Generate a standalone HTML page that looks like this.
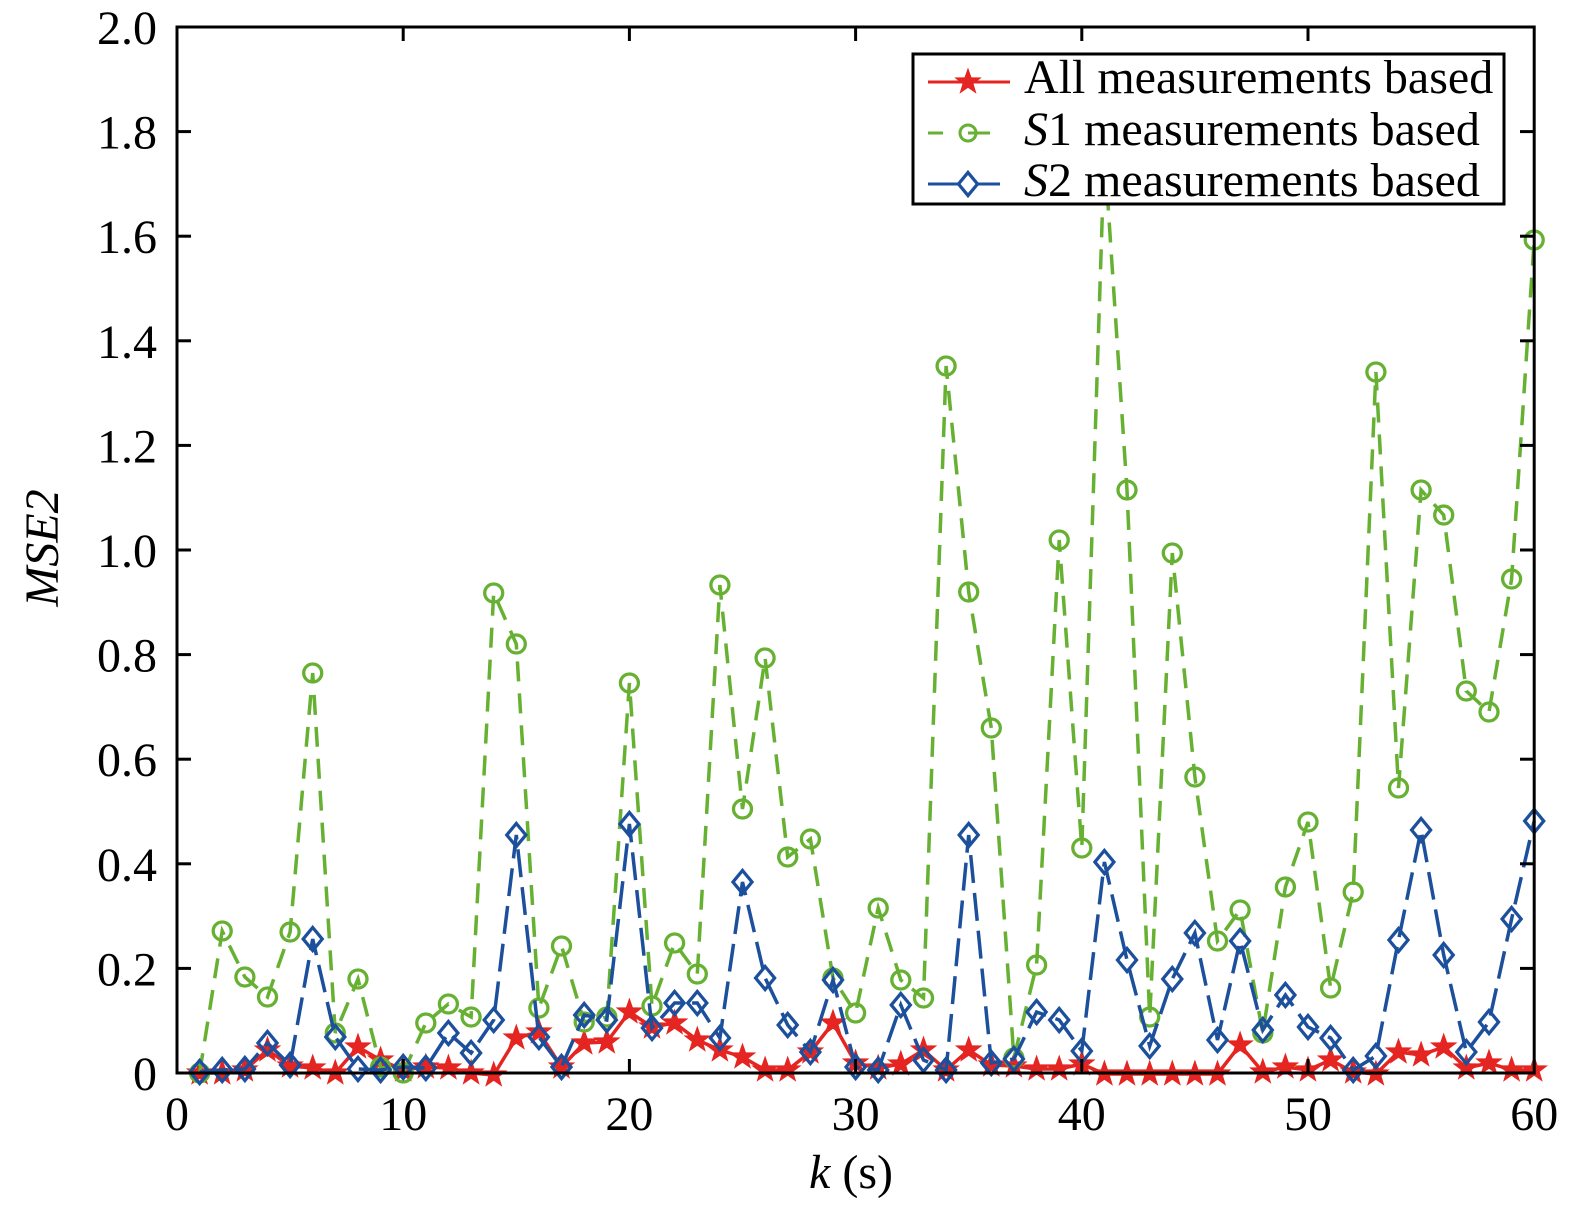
<!DOCTYPE html>
<html>
<head>
<meta charset="utf-8">
<style>
  html, body { margin:0; padding:0; background:#ffffff; }
  svg { display:block; }
  text { font-family: "Liberation Serif", "Times New Roman", serif; fill:#000; }
</style>
</head>
<body>
<svg width="1575" height="1212" viewBox="0 0 1575 1212" xmlns="http://www.w3.org/2000/svg">
  <defs>
    <path id="star" d="M0,-13 L3.06,-4.21 L12.36,-4.02 L4.95,1.61 L7.64,10.52 L0,5.2 L-7.64,10.52 L-4.95,1.61 L-12.36,-4.02 L-3.06,-4.21 Z" fill="#e52521" stroke="#e52521" stroke-width="1"/>
    <circle id="circ" cx="0" cy="0" r="9" fill="none" stroke="#66b032" stroke-width="3.3"/>
    <path id="diam" d="M0,-11.5 L9.5,0 L0,11.5 L-9.5,0 Z" fill="none" stroke="#1c4f9c" stroke-width="3.3" stroke-linejoin="miter"/>
  </defs>
  <rect width="1575" height="1212" fill="#fff"/>

  <!-- Red series (All) -->
  <polyline fill="none" stroke="#e52521" stroke-width="3.5" stroke-linejoin="round" points="199.6,1073 222.2,1073 244.9,1070 267.5,1050 290.1,1066 312.7,1068 335.3,1073 358.0,1047 380.6,1060 403.2,1070 425.8,1067 448.4,1068 471.1,1073 493.7,1075 516.3,1038 538.9,1032 561.5,1067 584.2,1043 606.8,1042 629.4,1012 652.0,1027 674.6,1023 697.3,1040 719.9,1050 742.5,1057 765.1,1070 787.7,1070 810.4,1052 833.0,1023 855.6,1063 878.2,1068 900.8,1064 923.5,1050 946.1,1070 968.7,1050 991.3,1065 1013.9,1066 1036.6,1069 1059.2,1069 1081.8,1064 1104.4,1074 1127.0,1074 1149.7,1074 1172.3,1074 1194.9,1074 1217.5,1074 1240.1,1045 1262.8,1072 1285.4,1067 1308.0,1070 1330.6,1060 1353.2,1072 1375.9,1074 1398.5,1052 1421.1,1055 1443.7,1047 1466.3,1068 1489.0,1063 1511.6,1070 1534.2,1070"/>
  <g>
    <use href="#star" x="199.6" y="1073"/><use href="#star" x="222.2" y="1073"/><use href="#star" x="244.9" y="1070"/><use href="#star" x="267.5" y="1050"/><use href="#star" x="290.1" y="1066"/><use href="#star" x="312.7" y="1068"/><use href="#star" x="335.3" y="1073"/><use href="#star" x="358.0" y="1047"/><use href="#star" x="380.6" y="1060"/><use href="#star" x="403.2" y="1070"/>
    <use href="#star" x="425.8" y="1067"/><use href="#star" x="448.4" y="1068"/><use href="#star" x="471.1" y="1073"/><use href="#star" x="493.7" y="1075"/><use href="#star" x="516.3" y="1038"/><use href="#star" x="538.9" y="1032"/><use href="#star" x="561.5" y="1067"/><use href="#star" x="584.2" y="1043"/><use href="#star" x="606.8" y="1042"/><use href="#star" x="629.4" y="1012"/>
    <use href="#star" x="652.0" y="1027"/><use href="#star" x="674.6" y="1023"/><use href="#star" x="697.3" y="1040"/><use href="#star" x="719.9" y="1050"/><use href="#star" x="742.5" y="1057"/><use href="#star" x="765.1" y="1070"/><use href="#star" x="787.7" y="1070"/><use href="#star" x="810.4" y="1052"/><use href="#star" x="833.0" y="1023"/><use href="#star" x="855.6" y="1063"/>
    <use href="#star" x="878.2" y="1068"/><use href="#star" x="900.8" y="1064"/><use href="#star" x="923.5" y="1050"/><use href="#star" x="946.1" y="1070"/><use href="#star" x="968.7" y="1050"/><use href="#star" x="991.3" y="1065"/><use href="#star" x="1013.9" y="1066"/><use href="#star" x="1036.6" y="1069"/><use href="#star" x="1059.2" y="1069"/><use href="#star" x="1081.8" y="1064"/>
    <use href="#star" x="1104.4" y="1074"/><use href="#star" x="1127.0" y="1074"/><use href="#star" x="1149.7" y="1074"/><use href="#star" x="1172.3" y="1074"/><use href="#star" x="1194.9" y="1074"/><use href="#star" x="1217.5" y="1074"/><use href="#star" x="1240.1" y="1045"/><use href="#star" x="1262.8" y="1072"/><use href="#star" x="1285.4" y="1067"/><use href="#star" x="1308.0" y="1070"/>
    <use href="#star" x="1330.6" y="1060"/><use href="#star" x="1353.2" y="1072"/><use href="#star" x="1375.9" y="1074"/><use href="#star" x="1398.5" y="1052"/><use href="#star" x="1421.1" y="1055"/><use href="#star" x="1443.7" y="1047"/><use href="#star" x="1466.3" y="1068"/><use href="#star" x="1489.0" y="1063"/><use href="#star" x="1511.6" y="1070"/><use href="#star" x="1534.2" y="1070"/>
  </g>

  <!-- Green series (S1) -->
  <polyline fill="none" stroke="#66b032" stroke-width="3.5" stroke-dasharray="20,12" points="199.6,1073 222.2,931 244.9,977 267.5,997 290.1,932 312.7,673 335.3,1033 358.0,979 380.6,1067 403.2,1073 425.8,1023 448.4,1004 471.1,1017 493.7,593 516.3,644 538.9,1008 561.5,946 584.2,1022 606.8,1017 629.4,683 652.0,1006 674.6,943 697.3,974 719.9,585 742.5,809 765.1,658 787.7,857 810.4,839 833.0,978 855.6,1013 878.2,908 900.8,980 923.5,998 946.1,366 968.7,592 991.3,728 1013.9,1058 1036.6,965 1059.2,540 1081.8,848 1104.4,150 1127.0,490 1149.7,1017 1172.3,553 1194.9,777 1217.5,941 1240.1,910 1262.8,1033 1285.4,887 1308.0,822 1330.6,988 1353.2,892 1375.9,372 1398.5,788 1421.1,490 1443.7,515 1466.3,691 1489.0,712 1511.6,579 1534.2,240"/>
  <g>
    <use href="#circ" x="199.6" y="1073"/><use href="#circ" x="222.2" y="931"/><use href="#circ" x="244.9" y="977"/><use href="#circ" x="267.5" y="997"/><use href="#circ" x="290.1" y="932"/><use href="#circ" x="312.7" y="673"/><use href="#circ" x="335.3" y="1033"/><use href="#circ" x="358.0" y="979"/><use href="#circ" x="380.6" y="1067"/><use href="#circ" x="403.2" y="1073"/>
    <use href="#circ" x="425.8" y="1023"/><use href="#circ" x="448.4" y="1004"/><use href="#circ" x="471.1" y="1017"/><use href="#circ" x="493.7" y="593"/><use href="#circ" x="516.3" y="644"/><use href="#circ" x="538.9" y="1008"/><use href="#circ" x="561.5" y="946"/><use href="#circ" x="584.2" y="1022"/><use href="#circ" x="606.8" y="1017"/><use href="#circ" x="629.4" y="683"/>
    <use href="#circ" x="652.0" y="1006"/><use href="#circ" x="674.6" y="943"/><use href="#circ" x="697.3" y="974"/><use href="#circ" x="719.9" y="585"/><use href="#circ" x="742.5" y="809"/><use href="#circ" x="765.1" y="658"/><use href="#circ" x="787.7" y="857"/><use href="#circ" x="810.4" y="839"/><use href="#circ" x="833.0" y="978"/><use href="#circ" x="855.6" y="1013"/>
    <use href="#circ" x="878.2" y="908"/><use href="#circ" x="900.8" y="980"/><use href="#circ" x="923.5" y="998"/><use href="#circ" x="946.1" y="366"/><use href="#circ" x="968.7" y="592"/><use href="#circ" x="991.3" y="728"/><use href="#circ" x="1013.9" y="1058"/><use href="#circ" x="1036.6" y="965"/><use href="#circ" x="1059.2" y="540"/><use href="#circ" x="1081.8" y="848"/>
    <use href="#circ" x="1104.4" y="150"/><use href="#circ" x="1127.0" y="490"/><use href="#circ" x="1149.7" y="1017"/><use href="#circ" x="1172.3" y="553"/><use href="#circ" x="1194.9" y="777"/><use href="#circ" x="1217.5" y="941"/><use href="#circ" x="1240.1" y="910"/><use href="#circ" x="1262.8" y="1033"/><use href="#circ" x="1285.4" y="887"/><use href="#circ" x="1308.0" y="822"/>
    <use href="#circ" x="1330.6" y="988"/><use href="#circ" x="1353.2" y="892"/><use href="#circ" x="1375.9" y="372"/><use href="#circ" x="1398.5" y="788"/><use href="#circ" x="1421.1" y="490"/><use href="#circ" x="1443.7" y="515"/><use href="#circ" x="1466.3" y="691"/><use href="#circ" x="1489.0" y="712"/><use href="#circ" x="1511.6" y="579"/><use href="#circ" x="1534.2" y="240"/>
  </g>

  <!-- Blue series (S2) -->
  <polyline fill="none" stroke="#1c4f9c" stroke-width="3.5" stroke-dasharray="28,10" points="199.6,1072 222.2,1070 244.9,1069 267.5,1043 290.1,1065 312.7,939 335.3,1037 358.0,1069 380.6,1070 403.2,1067 425.8,1068 448.4,1033 471.1,1053 493.7,1020 516.3,835 538.9,1037 561.5,1067 584.2,1015 606.8,1020 629.4,824 652.0,1028 674.6,1003 697.3,1003 719.9,1038 742.5,882 765.1,978 787.7,1025 810.4,1052 833.0,980 855.6,1067 878.2,1070 900.8,1005 923.5,1060 946.1,1070 968.7,835 991.3,1063 1013.9,1059 1036.6,1012 1059.2,1020 1081.8,1051 1104.4,862 1127.0,960 1149.7,1046 1172.3,979 1194.9,933 1217.5,1040 1240.1,941 1262.8,1030 1285.4,995 1308.0,1027 1330.6,1038 1353.2,1070 1375.9,1056 1398.5,940 1421.1,830 1443.7,955 1466.3,1052 1489.0,1022 1511.6,919 1534.2,821"/>
  <g>
    <use href="#diam" x="199.6" y="1072"/><use href="#diam" x="222.2" y="1070"/><use href="#diam" x="244.9" y="1069"/><use href="#diam" x="267.5" y="1043"/><use href="#diam" x="290.1" y="1065"/><use href="#diam" x="312.7" y="939"/><use href="#diam" x="335.3" y="1037"/><use href="#diam" x="358.0" y="1069"/><use href="#diam" x="380.6" y="1070"/><use href="#diam" x="403.2" y="1067"/>
    <use href="#diam" x="425.8" y="1068"/><use href="#diam" x="448.4" y="1033"/><use href="#diam" x="471.1" y="1053"/><use href="#diam" x="493.7" y="1020"/><use href="#diam" x="516.3" y="835"/><use href="#diam" x="538.9" y="1037"/><use href="#diam" x="561.5" y="1067"/><use href="#diam" x="584.2" y="1015"/><use href="#diam" x="606.8" y="1020"/><use href="#diam" x="629.4" y="824"/>
    <use href="#diam" x="652.0" y="1028"/><use href="#diam" x="674.6" y="1003"/><use href="#diam" x="697.3" y="1003"/><use href="#diam" x="719.9" y="1038"/><use href="#diam" x="742.5" y="882"/><use href="#diam" x="765.1" y="978"/><use href="#diam" x="787.7" y="1025"/><use href="#diam" x="810.4" y="1052"/><use href="#diam" x="833.0" y="980"/><use href="#diam" x="855.6" y="1067"/>
    <use href="#diam" x="878.2" y="1070"/><use href="#diam" x="900.8" y="1005"/><use href="#diam" x="923.5" y="1060"/><use href="#diam" x="946.1" y="1070"/><use href="#diam" x="968.7" y="835"/><use href="#diam" x="991.3" y="1063"/><use href="#diam" x="1013.9" y="1059"/><use href="#diam" x="1036.6" y="1012"/><use href="#diam" x="1059.2" y="1020"/><use href="#diam" x="1081.8" y="1051"/>
    <use href="#diam" x="1104.4" y="862"/><use href="#diam" x="1127.0" y="960"/><use href="#diam" x="1149.7" y="1046"/><use href="#diam" x="1172.3" y="979"/><use href="#diam" x="1194.9" y="933"/><use href="#diam" x="1217.5" y="1040"/><use href="#diam" x="1240.1" y="941"/><use href="#diam" x="1262.8" y="1030"/><use href="#diam" x="1285.4" y="995"/><use href="#diam" x="1308.0" y="1027"/>
    <use href="#diam" x="1330.6" y="1038"/><use href="#diam" x="1353.2" y="1070"/><use href="#diam" x="1375.9" y="1056"/><use href="#diam" x="1398.5" y="940"/><use href="#diam" x="1421.1" y="830"/><use href="#diam" x="1443.7" y="955"/><use href="#diam" x="1466.3" y="1052"/><use href="#diam" x="1489.0" y="1022"/><use href="#diam" x="1511.6" y="919"/><use href="#diam" x="1534.2" y="821"/>
  </g>

  <!-- Axes box -->
  <rect x="177" y="27" width="1357.2" height="1046" fill="none" stroke="#000" stroke-width="3"/>
  <g stroke="#000" stroke-width="3">
    <line x1="177" y1="968.4" x2="191" y2="968.4"/><line x1="1534.2" y1="968.4" x2="1520" y2="968.4"/>
    <line x1="177" y1="863.8" x2="191" y2="863.8"/><line x1="1534.2" y1="863.8" x2="1520" y2="863.8"/>
    <line x1="177" y1="759.2" x2="191" y2="759.2"/><line x1="1534.2" y1="759.2" x2="1520" y2="759.2"/>
    <line x1="177" y1="654.6" x2="191" y2="654.6"/><line x1="1534.2" y1="654.6" x2="1520" y2="654.6"/>
    <line x1="177" y1="550" x2="191" y2="550"/><line x1="1534.2" y1="550" x2="1520" y2="550"/>
    <line x1="177" y1="445.4" x2="191" y2="445.4"/><line x1="1534.2" y1="445.4" x2="1520" y2="445.4"/>
    <line x1="177" y1="340.8" x2="191" y2="340.8"/><line x1="1534.2" y1="340.8" x2="1520" y2="340.8"/>
    <line x1="177" y1="236.2" x2="191" y2="236.2"/><line x1="1534.2" y1="236.2" x2="1520" y2="236.2"/>
    <line x1="177" y1="131.6" x2="191" y2="131.6"/><line x1="1534.2" y1="131.6" x2="1520" y2="131.6"/>
    <line x1="403.2" y1="1073" x2="403.2" y2="1059"/><line x1="403.2" y1="27" x2="403.2" y2="41"/>
    <line x1="629.4" y1="1073" x2="629.4" y2="1059"/><line x1="629.4" y1="27" x2="629.4" y2="41"/>
    <line x1="855.6" y1="1073" x2="855.6" y2="1059"/><line x1="855.6" y1="27" x2="855.6" y2="41"/>
    <line x1="1081.8" y1="1073" x2="1081.8" y2="1059"/><line x1="1081.8" y1="27" x2="1081.8" y2="41"/>
    <line x1="1308" y1="1073" x2="1308" y2="1059"/><line x1="1308" y1="27" x2="1308" y2="41"/>
  </g>

  <!-- y tick labels -->
  <g font-size="48" text-anchor="end">
    <text x="157" y="1090">0</text>
    <text x="157" y="985.4">0.2</text>
    <text x="157" y="880.8">0.4</text>
    <text x="157" y="776.2">0.6</text>
    <text x="157" y="671.6">0.8</text>
    <text x="157" y="567">1.0</text>
    <text x="157" y="462.4">1.2</text>
    <text x="157" y="357.8">1.4</text>
    <text x="157" y="253.2">1.6</text>
    <text x="157" y="148.6">1.8</text>
    <text x="157" y="44">2.0</text>
  </g>
  <!-- x tick labels -->
  <g font-size="48" text-anchor="middle">
    <text x="177" y="1130">0</text>
    <text x="403.2" y="1130">10</text>
    <text x="629.4" y="1130">20</text>
    <text x="855.6" y="1130">30</text>
    <text x="1081.8" y="1130">40</text>
    <text x="1308" y="1130">50</text>
    <text x="1534.2" y="1130">60</text>
  </g>

  <!-- axis labels -->
  <text x="851" y="1188" font-size="48" text-anchor="middle"><tspan font-style="italic">k</tspan> (s)</text>
  <text transform="translate(58,548) rotate(-90)" font-size="48" font-style="italic" text-anchor="middle">MSE2</text>

  <!-- Legend -->
  <rect x="913" y="54" width="591" height="150" fill="#fff" stroke="#000" stroke-width="3"/>
  <line x1="928" y1="82" x2="1010" y2="82" stroke="#e52521" stroke-width="3"/>
  <use href="#star" x="968" y="82"/>
  <line x1="928" y1="133" x2="943" y2="133" stroke="#66b032" stroke-width="3"/>
  <line x1="976" y1="133" x2="990" y2="133" stroke="#66b032" stroke-width="3"/>
  <circle cx="968" cy="133" r="8" fill="none" stroke="#66b032" stroke-width="3"/>
  <line x1="968" y1="133" x2="976" y2="133" stroke="#66b032" stroke-width="3"/>
  <line x1="928" y1="184" x2="959" y2="184" stroke="#1c4f9c" stroke-width="3"/>
  <line x1="977" y1="184" x2="1000" y2="184" stroke="#1c4f9c" stroke-width="3"/>
  <use href="#diam" x="968" y="184"/>
  <g font-size="48">
    <text x="1024" y="93">All measurements based</text>
    <text x="1024" y="145"><tspan font-style="italic">S</tspan>1 measurements based</text>
    <text x="1024" y="196"><tspan font-style="italic">S</tspan>2 measurements based</text>
  </g>
</svg>
</body>
</html>
